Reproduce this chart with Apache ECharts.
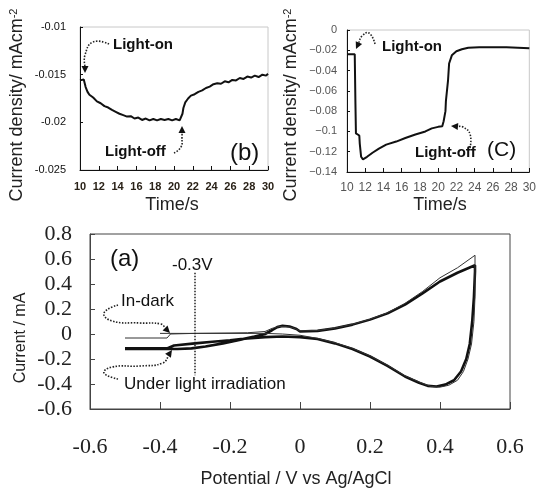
<!DOCTYPE html>
<html lang="en">
<head>
<meta charset="utf-8" />
<title>Photocurrent response and cyclic voltammetry</title>
<script src="https://cdn.jsdelivr.net/npm/echarts@6/dist/echarts.min.js"></script>
</head>
<body style="margin:0;background:#fff">
<div id="chart" style="width:539px;height:489px"></div>
<script>
// (b) photocurrent transient
let bTime = [10, 10.2, 10.4, 10.6, 10.8, 11, 11.4, 11.8, 12.2, 12.6, 13, 13.4, 13.8, 14.2, 14.6, 15, 15.4, 15.8, 16.2, 16.6, 17, 17.4, 17.8, 18.2, 18.6, 19, 19.4, 19.8, 20.2, 20.6, 20.8, 20.9, 21.0, 21.2, 21.5, 21.8, 22.2, 22.6, 23, 23.4, 23.8, 24.2, 24.6, 25, 25.4, 25.8, 26.2, 26.6, 27, 27.4, 27.8, 28.2, 28.6, 29, 29.4, 29.8, 30]
let bCurrent = [-0.0156, -0.01545, -0.0155, -0.0163, -0.0168, -0.0171, -0.0174, -0.0178, -0.018, -0.0183, -0.01845, -0.0187, -0.0189, -0.0191, -0.01925, -0.0194, -0.01935, -0.0196, -0.0195, -0.01975, -0.0196, -0.0198, -0.01965, -0.0198, -0.01965, -0.01975, -0.01965, -0.0198, -0.01965, -0.0198, -0.0196, -0.0191, -0.0185, -0.0179, -0.0175, -0.0172, -0.01705, -0.0168, -0.01665, -0.0164, -0.01625, -0.016, -0.0159, -0.01595, -0.0157, -0.0158, -0.01555, -0.0156, -0.01535, -0.01545, -0.0152, -0.0153, -0.0151, -0.01525, -0.015, -0.0151, -0.0149]

// (c) photocurrent transient
let cTime = [10, 10.85, 10.92, 10.98, 11.35, 11.4, 11.55, 11.75, 12.2, 12.8, 13.5, 14.3, 15.4, 16.4, 17.5, 18.6, 19.3, 20.0, 20.45, 20.6, 20.8, 20.85, 21.02, 21.08, 21.2, 21.5, 22.0, 22.6, 23.3, 24.5, 26.0, 27.5, 27.7, 30]
let cCurrent = [-0.024, -0.024, -0.07, -0.102, -0.104, -0.112, -0.125, -0.1275, -0.125, -0.121, -0.117, -0.113, -0.11, -0.1065, -0.103, -0.1, -0.097, -0.0955, -0.095, -0.09, -0.08, -0.07, -0.07, -0.05, -0.033, -0.025, -0.021, -0.019, -0.0175, -0.017, -0.017, -0.017, -0.018, -0.018]

// (a) cyclic voltammograms
let darkPotential = [-0.5, -0.38, -0.37, -0.3, -0.2, -0.15, -0.1, -0.08, -0.06, -0.04, -0.02, 0, 0.05, 0.1, 0.15, 0.2, 0.25, 0.3, 0.35, 0.4, 0.45, 0.5,
  0.5, 0.5, 0.497, 0.49, 0.48, 0.467, 0.45, 0.425, 0.4, 0.375, 0.35, 0.3, 0.25, 0.2, 0.15, 0.1, 0.05, 0, -0.05, -0.1, -0.2, -0.3, -0.4]
let darkCurrent = [-0.032, -0.032, 0.0, 0.005, 0.008, 0.01, 0.02, 0.045, 0.06, 0.06, 0.05, 0.025, 0.028, 0.048, 0.078, 0.118, 0.17, 0.245, 0.34, 0.45, 0.53, 0.63,
  0.55, 0.3, 0.1, -0.08, -0.2, -0.3, -0.37, -0.41, -0.425, -0.42, -0.395, -0.335, -0.25, -0.175, -0.115, -0.07, -0.035, -0.01, 0.0, 0.005, 0.005, 0.005, 0.005]
let lightPotential = [-0.5, -0.42, -0.35, -0.31, -0.27, -0.22, -0.17, -0.13, -0.1, -0.08, -0.065, -0.05, -0.03, -0.01, 0, 0.05, 0.1, 0.15, 0.2, 0.25, 0.3, 0.35, 0.4, 0.45, 0.5,
  0.5, 0.497, 0.492, 0.485, 0.475, 0.46, 0.44, 0.415, 0.39, 0.365, 0.34, 0.3, 0.25, 0.2, 0.15, 0.1, 0.05, 0, -0.05, -0.1, -0.15, -0.2, -0.25, -0.3, -0.36, -0.38, -0.5]
let lightCurrent = [-0.12, -0.12, -0.12, -0.115, -0.1, -0.075, -0.045, -0.02, 0.0, 0.03, 0.055, 0.065, 0.06, 0.04, 0.02, 0.025, 0.045, 0.075, 0.115, 0.165, 0.235, 0.325, 0.42, 0.49, 0.55,
  0.5, 0.3, 0.1, -0.08, -0.2, -0.3, -0.37, -0.405, -0.42, -0.415, -0.39, -0.34, -0.255, -0.18, -0.12, -0.075, -0.04, -0.025, -0.02, -0.025, -0.035, -0.05, -0.062, -0.075, -0.092, -0.115, -0.115]
let markPotential = [-0.3, -0.3]
let markCurrent = [0.49, -0.33]

let sans = "'Liberation Sans', Arial, sans-serif"
let serif = "'Liberation Serif', 'Times New Roman', serif"

function pairs(xs, ys) {
  return xs.map((x, i) => [x, ys[i]])
}

// dotted curved arrow for the annotations
function dottedArrow(pts) {
  let n = pts.length
  let tip = pts[n - 1], prev = pts[n - 2]
  let dx = tip[0] - prev[0], dy = tip[1] - prev[1]
  let len = Math.sqrt(dx * dx + dy * dy)
  dx /= len
  dy /= len
  let back = [tip[0] - dx * 7, tip[1] - dy * 7]
  let head = [tip, [back[0] - dy * 3.5, back[1] + dx * 3.5], [back[0] + dy * 3.5, back[1] - dx * 3.5]]
  return [
    { type: 'polyline', shape: { points: pts.slice(0, n - 1).concat([back]), smooth: 0.5 },
      style: { stroke: '#222', lineWidth: 1.6, lineDash: [1.5, 1.5], fill: null } },
    { type: 'polygon', shape: { points: head }, style: { fill: '#111' } }
  ]
}

function label(text, x, y, size, bold, family) {
  return {
    type: 'text', x: x, y: y,
    style: { text: text, fontSize: size, fontWeight: bold ? 'bold' : 'normal', fontFamily: family || sans,
      fill: '#111', verticalAlign: 'middle' }
  }
}

function yTitle(x, y) {
  return {
    type: 'text', x: x, y: y, rotation: Math.PI / 2,
    style: {
      text: '{a|Current density/ mAcm}{s|-2}', fill: '#222', align: 'center', verticalAlign: 'middle',
      rich: { a: { fontSize: 18, fontFamily: sans, fill: '#222' }, s: { fontSize: 11, fontFamily: sans, fill: '#222', verticalAlign: 'top' } }
    }
  }
}

function centered(text, x, y, size, rot) {
  return {
    type: 'text', x: x, y: y, rotation: rot || 0,
    style: { text: text, fontSize: size, fontFamily: sans, fill: '#222', align: 'center', verticalAlign: 'middle' }
  }
}

let graphics = [
  yTitle(17, 105), centered('Time/s', 172, 205, 18),
  yTitle(291, 105), centered('Time/s', 440, 205, 18),
  centered('Current / mA', 21, 338, 16, Math.PI / 2),
  centered('Potential / V vs Ag/AgCl', 296, 479, 18),
  label('Light-on', 113, 45, 15, true), label('Light-off', 105, 152, 15, true), label('(b)', 230, 153, 24),
  label('Light-on', 382, 47, 15, true), label('Light-off', 415, 153, 15, true), label('(C)', 487, 150, 21),
  label('(a)', 110, 259, 24), label('-0.3V', 172, 265, 17), label('In-dark', 121, 301, 17),
  label('Under light irradiation', 124, 384, 17)
]
graphics = graphics
  .concat(dottedArrow([[109, 44], [93, 42], [85, 55], [85, 73]]))
  .concat(dottedArrow([[174, 153], [181, 147], [182, 137], [182, 126]]))
  .concat(dottedArrow([[375, 44], [369, 33], [362, 36], [356, 49]]))
  .concat(dottedArrow([[470, 148], [470, 134], [463, 127], [451, 126]]))
  .concat(dottedArrow([[118, 305], [104, 313], [112, 321], [140, 323], [161, 324], [170, 333]]))
  .concat(dottedArrow([[118, 379], [104, 373], [112, 367], [140, 366], [163, 363], [172, 350]]))

let fmtB = v => String(+v.toFixed(3))
let fmtC = v => Math.abs(v) < 1e-9 ? '0' : '\u2212' + Math.abs(+v.toFixed(2))
let fmtA = v => Math.abs(v) < 1e-9 ? '0' : v.toFixed(1)

let chart = echarts.init(document.getElementById('chart'))
chart.setOption({
  backgroundColor: '#fff',
  animation: false,
  grid: [
    { left: 80, top: 27, width: 188, height: 143, show: true, borderColor: '#c8c8c8', borderWidth: 1 },
    { left: 347, top: 30, width: 185, height: 142, show: true, borderColor: '#c8c8c8', borderWidth: 1 },
    { left: 90, top: 234, width: 420, height: 175, show: true, borderColor: '#444', borderWidth: 1 }
  ],
  xAxis: [
    { gridIndex: 0, type: 'value', min: 10, max: 30, interval: 2,
      axisLine: { onZero: false, lineStyle: { color: '#111' } },
      axisTick: { inside: true, length: 4, lineStyle: { color: '#111' } },
      axisLabel: { margin: 11, fontSize: 11, fontWeight: 'bold', fontFamily: sans, color: '#2a2218' },
      splitLine: { show: false } },
    { gridIndex: 1, type: 'value', min: 10, max: 30, interval: 2,
      axisLine: { onZero: false, lineStyle: { color: '#111' } },
      axisTick: { inside: true, length: 4, lineStyle: { color: '#111' } },
      axisLabel: { margin: 10, fontSize: 12, fontFamily: sans, color: '#555' },
      splitLine: { show: false } },
    { gridIndex: 2, type: 'value', min: -0.6, max: 0.6, interval: 0.2,
      axisLine: { onZero: false, lineStyle: { color: '#444' } },
      axisTick: { inside: true, length: 7, lineStyle: { color: '#444' } },
      axisLabel: { margin: 27, fontSize: 22, fontFamily: serif, color: '#222', formatter: fmtA },
      splitLine: { show: false } }
  ],
  yAxis: [
    { gridIndex: 0, type: 'value', min: -0.025, max: -0.01, interval: 0.005,
      axisLine: { show: true, onZero: false, lineStyle: { color: '#111' } },
      axisTick: { show: true, inside: true, length: 3, lineStyle: { color: '#111' } },
      axisLabel: { margin: 14, fontSize: 11, fontFamily: sans, color: '#111', formatter: fmtB },
      splitLine: { show: false } },
    { gridIndex: 1, type: 'value', min: -0.14, max: 0, interval: 0.02,
      axisLine: { show: true, onZero: false, lineStyle: { color: '#111' } },
      axisTick: { show: true, inside: true, length: 3, lineStyle: { color: '#111' } },
      axisLabel: { margin: 10, fontSize: 11, fontFamily: sans, color: '#555', formatter: fmtC },
      splitLine: { show: false } },
    { gridIndex: 2, type: 'value', min: -0.6, max: 0.8, interval: 0.2,
      axisLine: { show: true, onZero: false, lineStyle: { color: '#444' } },
      axisTick: { show: true, inside: true, length: 5, lineStyle: { color: '#444' } },
      axisLabel: { margin: 18, fontSize: 22, fontFamily: serif, color: '#222', formatter: fmtA },
      splitLine: { show: false } }
  ],
  series: [
    { type: 'line', xAxisIndex: 0, yAxisIndex: 0, data: pairs(bTime, bCurrent), showSymbol: false,
      lineStyle: { color: '#111', width: 2 } },
    { type: 'line', xAxisIndex: 1, yAxisIndex: 1, data: pairs(cTime, cCurrent), showSymbol: false,
      lineStyle: { color: '#111', width: 2 } },
    { type: 'line', xAxisIndex: 2, yAxisIndex: 2, data: pairs(lightPotential, lightCurrent), showSymbol: false,
      lineStyle: { color: '#111', width: 2.6 } },
    { type: 'line', xAxisIndex: 2, yAxisIndex: 2, data: pairs(darkPotential, darkCurrent), showSymbol: false,
      lineStyle: { color: '#333', width: 1 } },
    { type: 'line', xAxisIndex: 2, yAxisIndex: 2, data: pairs(markPotential, markCurrent), showSymbol: false,
      lineStyle: { color: '#222', width: 1.5, type: [1.5, 1.5] } }
  ],
  graphic: graphics
})
</script>
</body>
</html>
